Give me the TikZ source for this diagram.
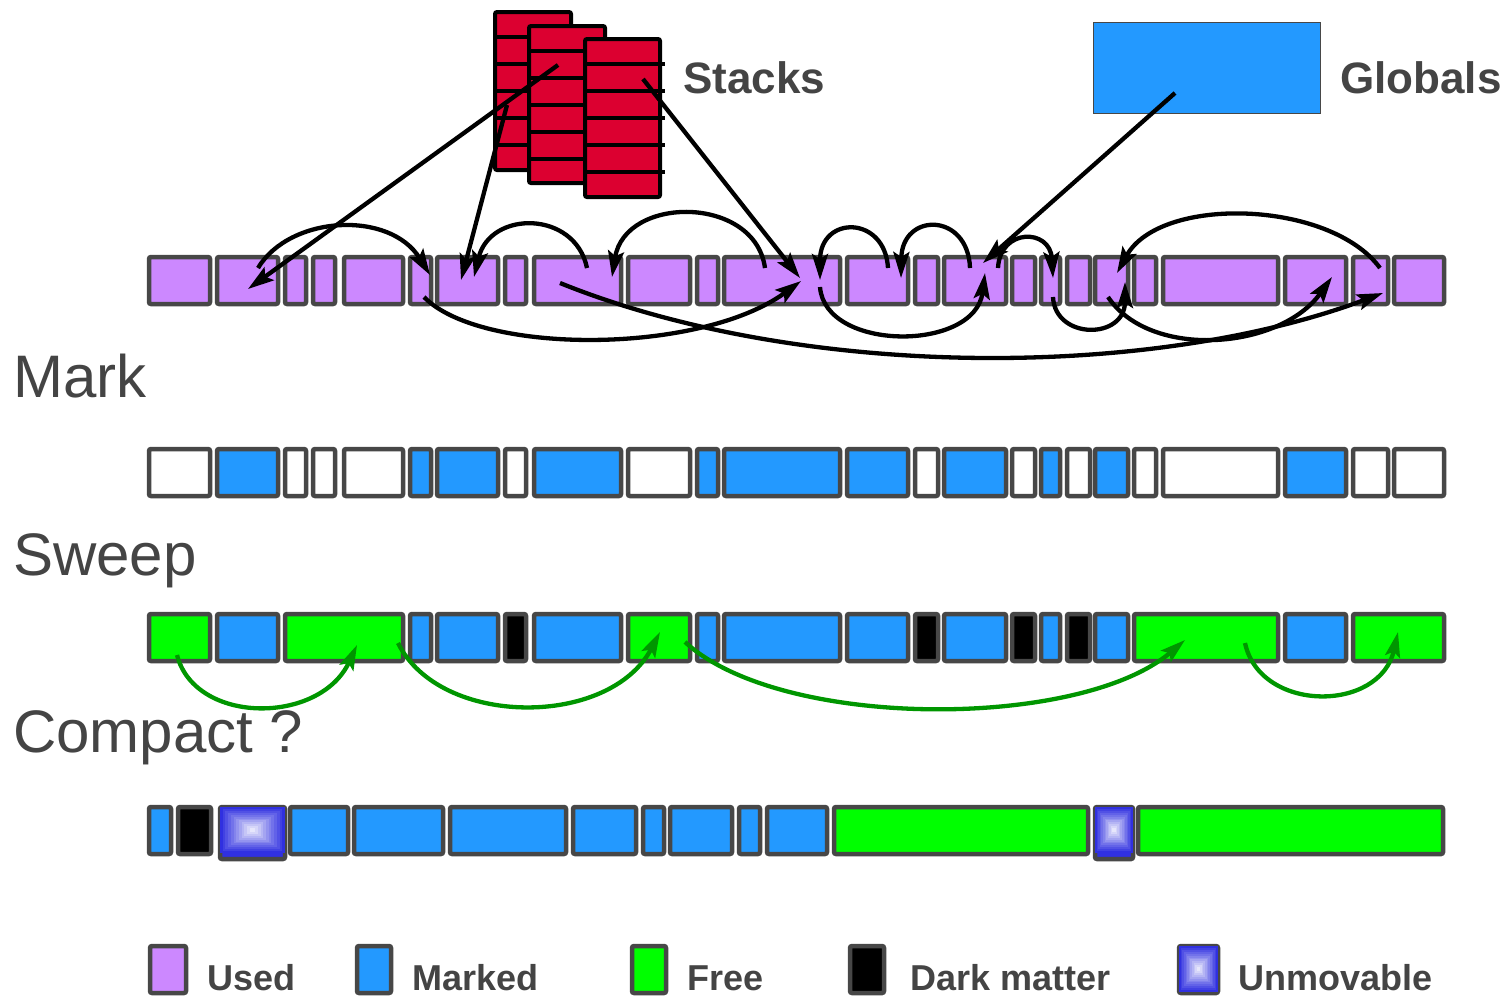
\documentclass[tikz,border=0pt]{standalone}
\usepackage{fontspec}
\setmainfont{Liberation Sans}
\usetikzlibrary{arrows.meta}
\definecolor{usedc}{RGB}{204,136,255}
\definecolor{markc}{RGB}{35,153,255}
\definecolor{freec}{RGB}{0,255,0}
\definecolor{edgec}{RGB}{71,71,71}
\definecolor{stackc}{RGB}{220,0,48}
\definecolor{unmc}{RGB}{48,48,224}
\definecolor{textc}{RGB}{68,68,68}
\definecolor{greenarr}{RGB}{0,150,0}
\tikzset{
  cellbox/.style={draw=edgec, line width=4.5pt, rounded corners=2pt},
  stackbox/.style={draw=black, fill=stackc, line width=4pt, rounded corners=2pt},
  ptr/.style={-{Stealth[length=26pt,width=16pt,inset=5pt]}, line width=4.3pt, black},
  gptr/.style={-{Stealth[length=25pt,width=15pt,inset=5pt]}, line width=4.3pt, greenarr},
  phase/.style={anchor=base west, inner sep=0pt, text=textc, font=\fontsize{60}{72}\selectfont},
  tag/.style={anchor=base west, inner sep=0pt, text=textc, font=\fontsize{44}{52}\selectfont\bfseries},
  legend/.style={anchor=base west, inner sep=0pt, text=textc, font=\fontsize{36}{42}\selectfont\bfseries}
}
\newcommand\unmovcell[5]{% x1 y1 x2 y2 (grey frame) and bottom of the shaded part
  \draw[cellbox, fill=unmc] (#1,#2) rectangle (#3,#4);
  \foreach \k in {0,...,11}{
    \pgfmathsetmacro\ax{#1+\k*(#3-#1)/24}
    \pgfmathsetmacro\ay{#2+\k*(#5-#2)/24}
    \pgfmathsetmacro\bx{#3-\k*(#3-#1)/24}
    \pgfmathsetmacro\by{#5-\k*(#5-#2)/24}
    \pgfmathtruncatemacro\p{100-\k*8}
    \fill[unmc!\p!white] (\ax,\ay) rectangle (\bx,\by);
  }
}
\begin{document}
\begin{tikzpicture}[x=1pt, y=-1pt]
  \useasboundingbox (0,0) rectangle (1507,997);
  % stacks and globals
  \draw[stackbox] (495,12) rectangle (571,170);
  \foreach \y in {37,64,91,118,145} \draw[line width=4pt] (495,\y) -- (575,\y);
  \draw[stackbox] (529,26) rectangle (605,183);
  \foreach \y in {51,78,105,132,159} \draw[line width=4pt] (529,\y) -- (609,\y);
  \draw[stackbox] (585,39) rectangle (660,197);
  \foreach \y in {64,91,118,145,172} \draw[line width=4pt] (585,\y) -- (665,\y);
  \node[tag] (stacks) at (683,93) {Stacks};
  \node[draw=edgec, fill=markc, line width=0.8pt, anchor=north west, inner sep=0pt,
        minimum width=227, minimum height=91] (globals) at (1093,22) {};
  \node[tag] (globtext) at (1340,93) {Globals};
  % rows
  \foreach \a/\b in {147/212, 215/280, 283/308, 311/337, 342/405, 408/433, 435/500,
      503/528, 532/623, 626/692, 695/720, 722/842, 845/910, 913/940, 942/1008,
      1010/1037, 1039/1062, 1065/1092, 1093/1130, 1132/1158, 1161/1280, 1283/1348,
      1351/1390, 1392/1446}
    \draw[cellbox, fill=usedc] (\a+2,257) rectangle (\b-2,304);
  \node[phase] (mark) at (13,397) {Mark};
  \foreach \a/\b/\c in {147/212/white, 215/280/markc, 283/308/white, 311/337/white,
      342/405/white, 408/433/markc, 435/500/markc, 503/528/white, 532/623/markc,
      626/692/white, 695/720/markc, 722/842/markc, 845/910/markc, 913/940/white,
      942/1008/markc, 1010/1037/white, 1039/1062/markc, 1065/1092/white,
      1093/1130/markc, 1132/1158/white, 1161/1280/white, 1283/1348/markc,
      1351/1390/white, 1392/1446/white}
    \draw[cellbox, fill=\c] (\a+2,449) rectangle (\b-2,496);
  \node[phase] (sweep) at (13,575) {Sweep};
  \foreach \a/\b/\c in {147/212/freec, 215/280/markc, 283/405/freec, 408/433/markc,
      435/500/markc, 503/528/black, 532/623/markc, 626/692/freec, 695/720/markc,
      722/842/markc, 845/910/markc, 913/940/black, 942/1008/markc, 1010/1037/black,
      1039/1062/markc, 1065/1092/black, 1093/1130/markc, 1132/1280/freec,
      1283/1348/markc, 1351/1446/freec}
    \draw[cellbox, fill=\c] (\a+2,614) rectangle (\b-2,661);
  \node[phase] (compact) at (13,752) {Compact ?};
  \foreach \a/\b/\c in {147/173/markc, 176/213/black, 288/350/markc, 352/445/markc,
      448/568/markc, 571/638/markc, 641/666/markc, 668/734/markc, 737/762/markc,
      765/829/markc, 832/1090/freec, 1136/1445/freec}
    \draw[cellbox, fill=\c] (\a+2,807) rectangle (\b-2,854);
  \unmovcell{220}{807}{285}{859}{853}
  \unmovcell{1095}{807}{1133}{859}{853}
  % legend
  \foreach \a/\b/\c in {148/188/usedc, 355/393/markc, 630/668/freec, 848/886/black}
    \draw[cellbox, fill=\c] (\a+2,946) rectangle (\b-2,993);
  \unmovcell{1179}{946}{1218}{993}{992}
  \node[legend] (lused) at (207,990) {Used};
  \node[legend] (lmarked) at (412,990) {Marked};
  \node[legend] (lfree) at (687,990) {Free};
  \node[legend] (ldark) at (910,990) {Dark matter};
  \node[legend] (lunmov) at (1238,990) {Unmovable};
  % pointer ends
  \path (558,65) coordinate (stkA)   (507,105) coordinate (stkB)
        (643,79) coordinate (stkC)   (1175,93) coordinate (globA)
        (248,289) coordinate (u2in)  (461,280) coordinate (u7in)
        (800,278) coordinate (u12in) (983,263) coordinate (u15in)
        (258,268) coordinate (u2up)  (430,275) coordinate (u6in)
        (587,268) coordinate (u9up)  (474,277) coordinate (u7top)
        (765,268) coordinate (u12up) (612,277) coordinate (u9top)
        (424,297) coordinate (u6dn)  (801,281) coordinate (u12lo)
        (560,283) coordinate (u9dn)  (1383,293) coordinate (u23in)
        (888,268) coordinate (u13up) (820,280) coordinate (u12rt)
        (970,268) coordinate (u15up) (901,278) coordinate (u13in)
        (820,287) coordinate (u12dn) (985,273) coordinate (u15lo)
        (998,268) coordinate (u15tp) (1053,278) coordinate (u17in)
        (1053,297) coordinate (u17dn) (1125,282) coordinate (u19lo)
        (1380,268) coordinate (u23up) (1117,273) coordinate (u19in)
        (1108,297) coordinate (u19dn) (1332,277) coordinate (u22in)
        (177,655) coordinate (f1)    (357,645) coordinate (f3)
        (398,643) coordinate (f3b)   (660,632) coordinate (f10)
        (685,642) coordinate (f10b)  (1185,640) coordinate (f20)
        (1245,643) coordinate (f20b) (1398,632) coordinate (f23);
  % roots
  \draw[ptr] (stkA) -- (u2in);
  \draw[ptr] (stkB) -- (u7in);
  \draw[ptr] (stkC) -- (u12in);
  \draw[ptr] (globA) -- (u15in);
  % heap references
  \draw[ptr] (u2up) .. controls (290,215) and (390,210) .. (u6in);
  \draw[ptr] (u9up) .. controls (575,210) and (490,210) .. (u7top);
  \draw[ptr] (u12up) .. controls (755,195) and (625,195) .. (u9top);
  \draw[ptr] (u6dn) .. controls (480,355) and (700,355) .. (u12lo);
  \draw[ptr] (u9dn) .. controls (800,380) and (1150,380) .. (u23in);
  \draw[ptr] (u13up) .. controls (885,215) and (820,215) .. (u12rt);
  \draw[ptr] (u15up) .. controls (968,212) and (902,212) .. (u13in);
  \draw[ptr] (u12dn) .. controls (825,352) and (975,352) .. (u15lo);
  \draw[ptr] (u15tp) .. controls (1000,228) and (1050,228) .. (u17in);
  \draw[ptr] (u17dn) .. controls (1055,340) and (1125,340) .. (u19lo);
  \draw[ptr] (u23up) .. controls (1330,200) and (1160,195) .. (u19in);
  \draw[ptr] (u19dn) .. controls (1150,360) and (1280,350) .. (u22in);
  % free list
  \draw[gptr] (f1) .. controls (195,725) and (320,725) .. (f3);
  \draw[gptr] (f3b) .. controls (440,728) and (610,728) .. (f10);
  \draw[gptr] (f10b) .. controls (780,730) and (1080,730) .. (f20);
  \draw[gptr] (f20b) .. controls (1260,713) and (1380,713) .. (f23);
\end{tikzpicture}
\end{document}
